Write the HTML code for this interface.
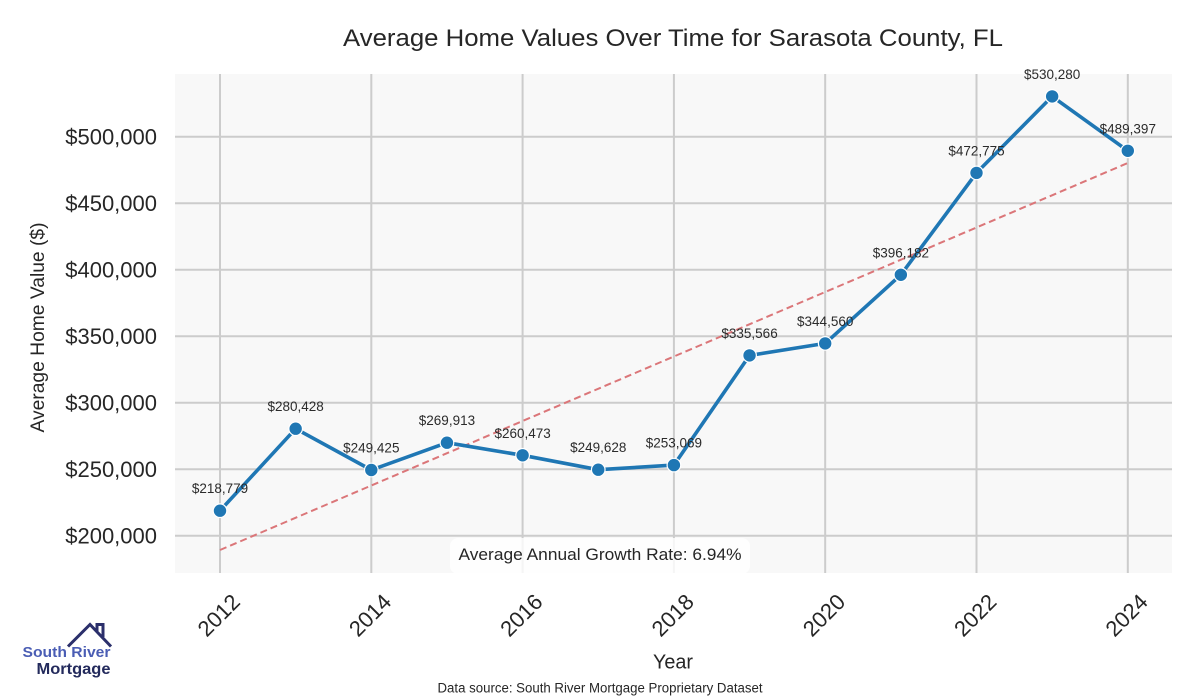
<!DOCTYPE html>
<html>
<head>
<meta charset="utf-8">
<style>
  html,body{margin:0;padding:0;background:#ffffff;}
  svg{display:block;}
  text{font-family:"Liberation Sans", Arial, sans-serif;}
</style>
</head>
<body>
<svg width="1200" height="700" viewBox="0 0 1200 700" xmlns="http://www.w3.org/2000/svg">
  <rect x="0" y="0" width="1200" height="700" fill="#ffffff"/>
  <!-- Title -->
  <text x="673" y="46" font-size="24.5" fill="#262626" text-anchor="middle" textLength="660" lengthAdjust="spacingAndGlyphs">Average Home Values Over Time for Sarasota County, FL</text>

  <!-- plot background -->
  <rect x="175" y="74" width="997" height="499" fill="#f8f8f8"/>

  <!-- horizontal grid -->
  <g stroke="#cccccc" stroke-width="2">
    <line x1="175" y1="535.7" x2="1172" y2="535.7"/>
    <line x1="175" y1="469.2" x2="1172" y2="469.2"/>
    <line x1="175" y1="402.7" x2="1172" y2="402.7"/>
    <line x1="175" y1="336.2" x2="1172" y2="336.2"/>
    <line x1="175" y1="269.7" x2="1172" y2="269.7"/>
    <line x1="175" y1="203.2" x2="1172" y2="203.2"/>
    <line x1="175" y1="136.7" x2="1172" y2="136.7"/>
    <!-- vertical grid -->
    <line x1="220" y1="74" x2="220" y2="573"/>
    <line x1="371.3" y1="74" x2="371.3" y2="573"/>
    <line x1="522.6" y1="74" x2="522.6" y2="573"/>
    <line x1="673.9" y1="74" x2="673.9" y2="573"/>
    <line x1="825.2" y1="74" x2="825.2" y2="573"/>
    <line x1="976.5" y1="74" x2="976.5" y2="573"/>
    <line x1="1127.8" y1="74" x2="1127.8" y2="573"/>
  </g>

  <!-- y tick labels -->
  <g font-size="22" fill="#262626" text-anchor="end">
    <text x="157" y="543.6">$200,000</text>
    <text x="157" y="477.1">$250,000</text>
    <text x="157" y="410.6">$300,000</text>
    <text x="157" y="344.1">$350,000</text>
    <text x="157" y="277.6">$400,000</text>
    <text x="157" y="211.1">$450,000</text>
    <text x="157" y="144.6">$500,000</text>
  </g>

  <!-- y axis label -->
  <text transform="translate(44,327.5) rotate(-90)" font-size="19.5" fill="#262626" text-anchor="middle" textLength="210" lengthAdjust="spacingAndGlyphs">Average Home Value ($)</text>

  <!-- x tick labels -->
  <g font-size="22" fill="#262626" text-anchor="middle">
    <text transform="translate(218.5,615) rotate(-45)" dy="7.9">2012</text>
    <text transform="translate(369.8,615) rotate(-45)" dy="7.9">2014</text>
    <text transform="translate(521.1,615) rotate(-45)" dy="7.9">2016</text>
    <text transform="translate(672.4,615) rotate(-45)" dy="7.9">2018</text>
    <text transform="translate(823.7,615) rotate(-45)" dy="7.9">2020</text>
    <text transform="translate(975,615) rotate(-45)" dy="7.9">2022</text>
    <text transform="translate(1126.3,615) rotate(-45)" dy="7.9">2024</text>
  </g>

  <!-- x axis label -->
  <text x="673" y="668.3" font-size="20" fill="#262626" text-anchor="middle" textLength="40" lengthAdjust="spacingAndGlyphs">Year</text>

  <!-- trend line -->
  <line x1="220" y1="550" x2="1127.8" y2="163" stroke="#db7679" stroke-width="2" stroke-dasharray="7,4"/>

  <!-- data line -->
  <polyline fill="none" stroke="#1f77b4" stroke-width="3.6" stroke-linejoin="round"
    points="220,510.7 295.65,428.7 371.3,470.0 446.95,442.7 522.6,455.3 598.25,469.7 673.9,465.1 749.55,355.4 825.2,343.4 900.85,274.8 976.5,172.9 1052.15,96.4 1127.8,150.8"/>

  <g fill="#1f77b4" stroke="#ffffff" stroke-width="1.2">
    <circle cx="220" cy="510.7" r="6.8"/>
    <circle cx="295.65" cy="428.7" r="6.8"/>
    <circle cx="371.3" cy="470.0" r="6.8"/>
    <circle cx="446.95" cy="442.7" r="6.8"/>
    <circle cx="522.6" cy="455.3" r="6.8"/>
    <circle cx="598.25" cy="469.7" r="6.8"/>
    <circle cx="673.9" cy="465.1" r="6.8"/>
    <circle cx="749.55" cy="355.4" r="6.8"/>
    <circle cx="825.2" cy="343.4" r="6.8"/>
    <circle cx="900.85" cy="274.8" r="6.8"/>
    <circle cx="976.5" cy="172.9" r="6.8"/>
    <circle cx="1052.15" cy="96.4" r="6.8"/>
    <circle cx="1127.8" cy="150.8" r="6.8"/>
  </g>

  <!-- data labels -->
  <g font-size="13.5" fill="#2b2b2b" text-anchor="middle">
    <text x="220" y="493.2">$218,779</text>
    <text x="295.65" y="411.2">$280,428</text>
    <text x="371.3" y="452.5">$249,425</text>
    <text x="446.95" y="425.2">$269,913</text>
    <text x="522.6" y="437.8">$260,473</text>
    <text x="598.25" y="452.2">$249,628</text>
    <text x="673.9" y="447.6">$253,069</text>
    <text x="749.55" y="337.9">$335,566</text>
    <text x="825.2" y="325.9">$344,560</text>
    <text x="900.85" y="257.3">$396,182</text>
    <text x="976.5" y="155.4">$472,775</text>
    <text x="1052.15" y="78.9">$530,280</text>
    <text x="1127.8" y="133.3">$489,397</text>
  </g>

  <!-- growth rate box -->
  <rect x="450" y="538" width="300" height="36" rx="8" ry="8" fill="#ffffff" fill-opacity="0.8"/>
  <text x="600" y="560" font-size="17" fill="#262626" text-anchor="middle" textLength="283" lengthAdjust="spacingAndGlyphs">Average Annual Growth Rate: 6.94%</text>

  <!-- data source -->
  <text x="600" y="692.7" font-size="13.5" fill="#262626" text-anchor="middle" textLength="325" lengthAdjust="spacingAndGlyphs">Data source: South River Mortgage Proprietary Dataset</text>

  <!-- logo -->
  <g fill="none" stroke="#2b2f6b" stroke-width="3" stroke-linejoin="miter">
    <polyline points="68,646.5 90,624.5 111,646.5"/>
    <polyline points="97,631 97,624.5 103,624.5 103,637"/>
  </g>
  <text x="22.5" y="657" font-size="14.5" font-weight="bold" fill="#4a5db4" textLength="88" lengthAdjust="spacingAndGlyphs">South River</text>
  <text x="36.5" y="674" font-size="15.5" font-weight="bold" fill="#232a5c" textLength="74" lengthAdjust="spacingAndGlyphs">Mortgage</text>
</svg>
</body>
</html>
